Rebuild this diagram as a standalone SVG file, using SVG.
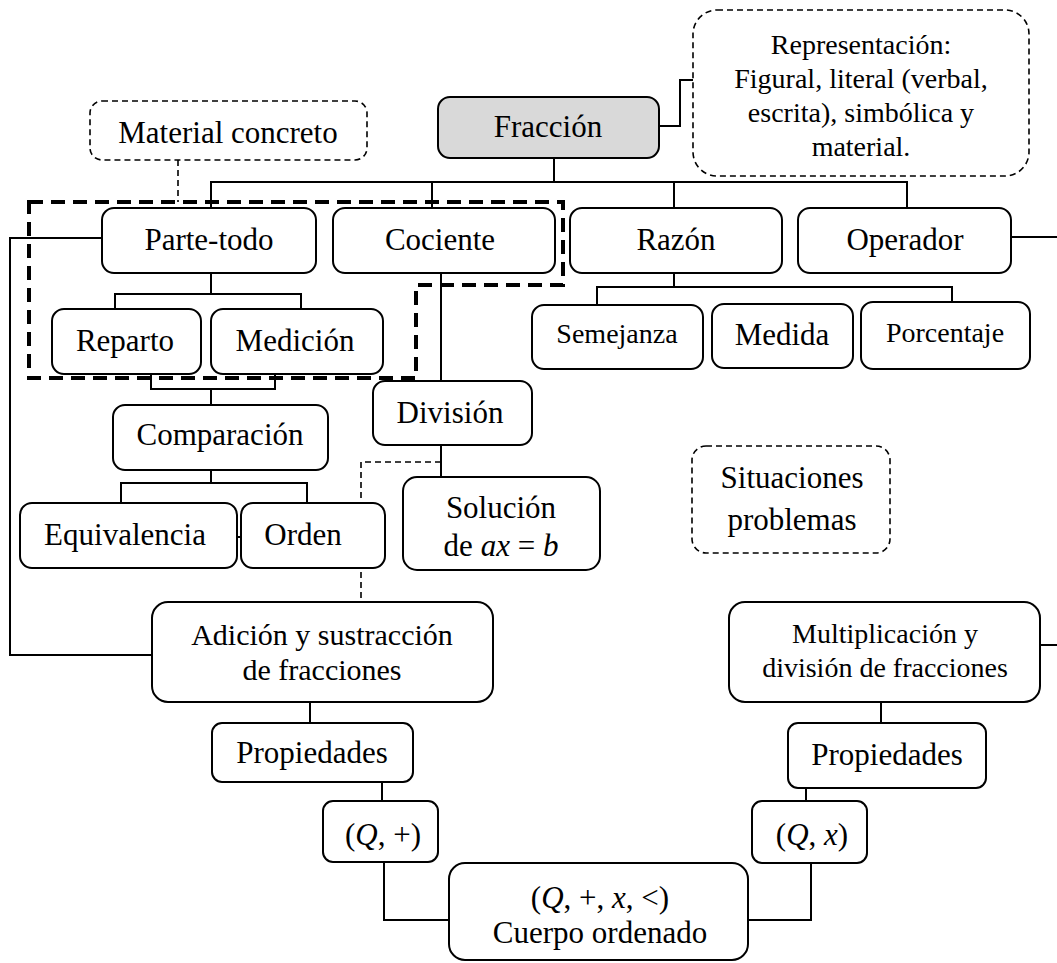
<svg xmlns="http://www.w3.org/2000/svg" width="1057" height="963" viewBox="0 0 1057 963">
<style>
.b{fill:#fff;stroke:#000;stroke-width:2}
.g{fill:#d9d9d9;stroke:#000;stroke-width:2}
.d{fill:#fff;stroke:#000;stroke-width:1.6;stroke-dasharray:6,4}
.c{fill:none;stroke:#000;stroke-width:2}
.cd{fill:none;stroke:#000;stroke-width:1.6;stroke-dasharray:6,4}
.hd{fill:none;stroke:#000;stroke-width:4;stroke-dasharray:14,8}
text{font-family:"Liberation Serif","Times New Roman",serif;font-size:31px;fill:#000;text-anchor:middle}
.s{font-size:28px}
.m{font-size:30px}
.i{font-style:italic}
</style>
<rect width="1057" height="963" fill="#fff"/>
<g id="connectors">
<polyline class="c" points="554,158 554,182"/>
<polyline class="c" points="211,208 211,182 907,182 907,208"/>
<polyline class="c" points="432,182 432,208"/>
<polyline class="c" points="674,182 674,208"/>
<polyline class="c" points="659,126 680,126 680,80 693,80"/>
<polyline class="cd" points="178,160 178,202"/>
<polyline class="c" points="1011,237 1057,237"/>
<polyline class="c" points="1040,645 1057,645"/>
<polyline class="c" points="102,238 10,238 10,655 152,655"/>
<polyline class="c" points="674,273 674,287"/>
<polyline class="c" points="597,305 597,287 952,287 952,302"/>
<polyline class="c" points="211,273 211,294"/>
<polyline class="c" points="115,309 115,294 301,294 301,309"/>
<polyline class="c" points="151,374 151,389 275,389 275,374"/>
<polyline class="c" points="211,389 211,405"/>
<polyline class="c" points="211,470 211,483"/>
<polyline class="c" points="121,503 121,483 307,483 307,503"/>
<polyline class="c" points="237,537 241,537"/>
<polyline class="c" points="441,273 441,381"/>
<polyline class="c" points="441,445 441,477"/>
<polyline class="cd" points="441,462 361,462 361,602"/>
<polyline class="c" points="310,702 310,723"/>
<polyline class="c" points="382,782 382,801"/>
<polyline class="c" points="384,862 384,920 449,920"/>
<polyline class="c" points="881,702 881,723"/>
<polyline class="c" points="806,788 806,801"/>
<polyline class="c" points="811,863 811,920 748,920"/>
</g>
<g id="fraccion"><rect class="g" x="438" y="97" width="221" height="61" rx="12"/><text x="548" y="137">Fracción</text></g>
<g id="representacion"><rect class="d" x="693" y="10" width="336" height="166" rx="24"/>
<text class="s" x="861" y="54">Representación:</text>
<text class="s" x="861" y="88">Figural, literal (verbal,</text>
<text class="s" x="861" y="122">escrita), simbólica y</text>
<text class="s" x="861" y="156">material.</text></g>
<g id="material"><rect class="d" x="90" y="101" width="277" height="59" rx="12"/><text x="228" y="143">Material concreto</text></g>
<g id="parte-todo"><rect class="b" x="102" y="208" width="214" height="65" rx="12"/><text x="209" y="250">Parte-todo</text></g>
<g id="cociente"><rect class="b" x="333" y="208" width="222" height="65" rx="12"/><text x="440" y="250">Cociente</text></g>
<g id="razon"><rect class="b" x="570" y="208" width="212" height="65" rx="12"/><text x="676" y="250">Razón</text></g>
<g id="operador"><rect class="b" x="798" y="208" width="213" height="65" rx="12"/><text x="905" y="250">Operador</text></g>
<g id="semejanza"><rect class="b" x="532" y="305" width="171" height="64" rx="12"/><text class="s" x="617" y="343">Semejanza</text></g>
<g id="medida"><rect class="b" x="712" y="304" width="141" height="64" rx="12"/><text x="782" y="345">Medida</text></g>
<g id="porcentaje"><rect class="b" x="861" y="302" width="169" height="67" rx="12"/><text class="s" x="945" y="342">Porcentaje</text></g>
<g id="reparto"><rect class="b" x="52" y="309" width="149" height="65" rx="12"/><text x="125" y="351">Reparto</text></g>
<g id="medicion"><rect class="b" x="211" y="309" width="172" height="65" rx="12"/><text x="295" y="351">Medición</text></g>
<g id="comparacion"><rect class="b" x="113" y="405" width="215" height="65" rx="12"/><text x="220" y="445">Comparación</text></g>
<g id="equivalencia"><rect class="b" x="20" y="503" width="217" height="65" rx="12"/><text x="125" y="545">Equivalencia</text></g>
<g id="orden"><rect class="b" x="241" y="503" width="144" height="65" rx="12"/><text x="303" y="545">Orden</text></g>
<g id="division"><rect class="b" x="373" y="381" width="159" height="64" rx="12"/><text x="450" y="423">División</text></g>
<g id="solucion"><rect class="b" x="403" y="477" width="197" height="93" rx="14"/><text x="501" y="518">Solución</text><text x="501" y="556">de <tspan class="i">ax</tspan> = <tspan class="i">b</tspan></text></g>
<g id="situaciones"><rect class="d" x="692" y="446" width="198" height="107" rx="14"/><text x="792" y="488">Situaciones</text><text x="792" y="530">problemas</text></g>
<g id="adicion"><rect class="b" x="152" y="602" width="341" height="100" rx="16"/><text class="m" x="322" y="645">Adición y sustracción</text><text class="m" x="322" y="680">de fracciones</text></g>
<g id="multiplicacion"><rect class="b" x="729" y="602" width="311" height="100" rx="16"/><text class="s" x="885" y="643">Multiplicación y</text><text class="s" x="885" y="677">división de fracciones</text></g>
<g id="propiedades1"><rect class="b" x="212" y="723" width="201" height="59" rx="10"/><text x="312" y="763">Propiedades</text></g>
<g id="propiedades2"><rect class="b" x="788" y="723" width="198" height="65" rx="10"/><text x="887" y="765">Propiedades</text></g>
<g id="qsum"><rect class="b" x="323" y="801" width="115" height="61" rx="10"/><text x="383" y="845">(<tspan class="i">Q</tspan>, +)</text></g>
<g id="qprod"><rect class="b" x="752" y="801" width="115" height="62" rx="10"/><text x="812" y="845">(<tspan class="i">Q</tspan>, <tspan class="i">x</tspan>)</text></g>
<g id="cuerpo"><rect class="b" x="449" y="863" width="299" height="97" rx="16"/><text x="600" y="908">(<tspan class="i">Q</tspan>, +, <tspan class="i">x</tspan>, &lt;)</text><text x="600" y="943">Cuerpo ordenado</text></g>
<g id="grupo-parte-todo"><polygon class="hd" points="29,202 563,202 563,285 416,285 416,378 29,378"/></g>
</svg>
